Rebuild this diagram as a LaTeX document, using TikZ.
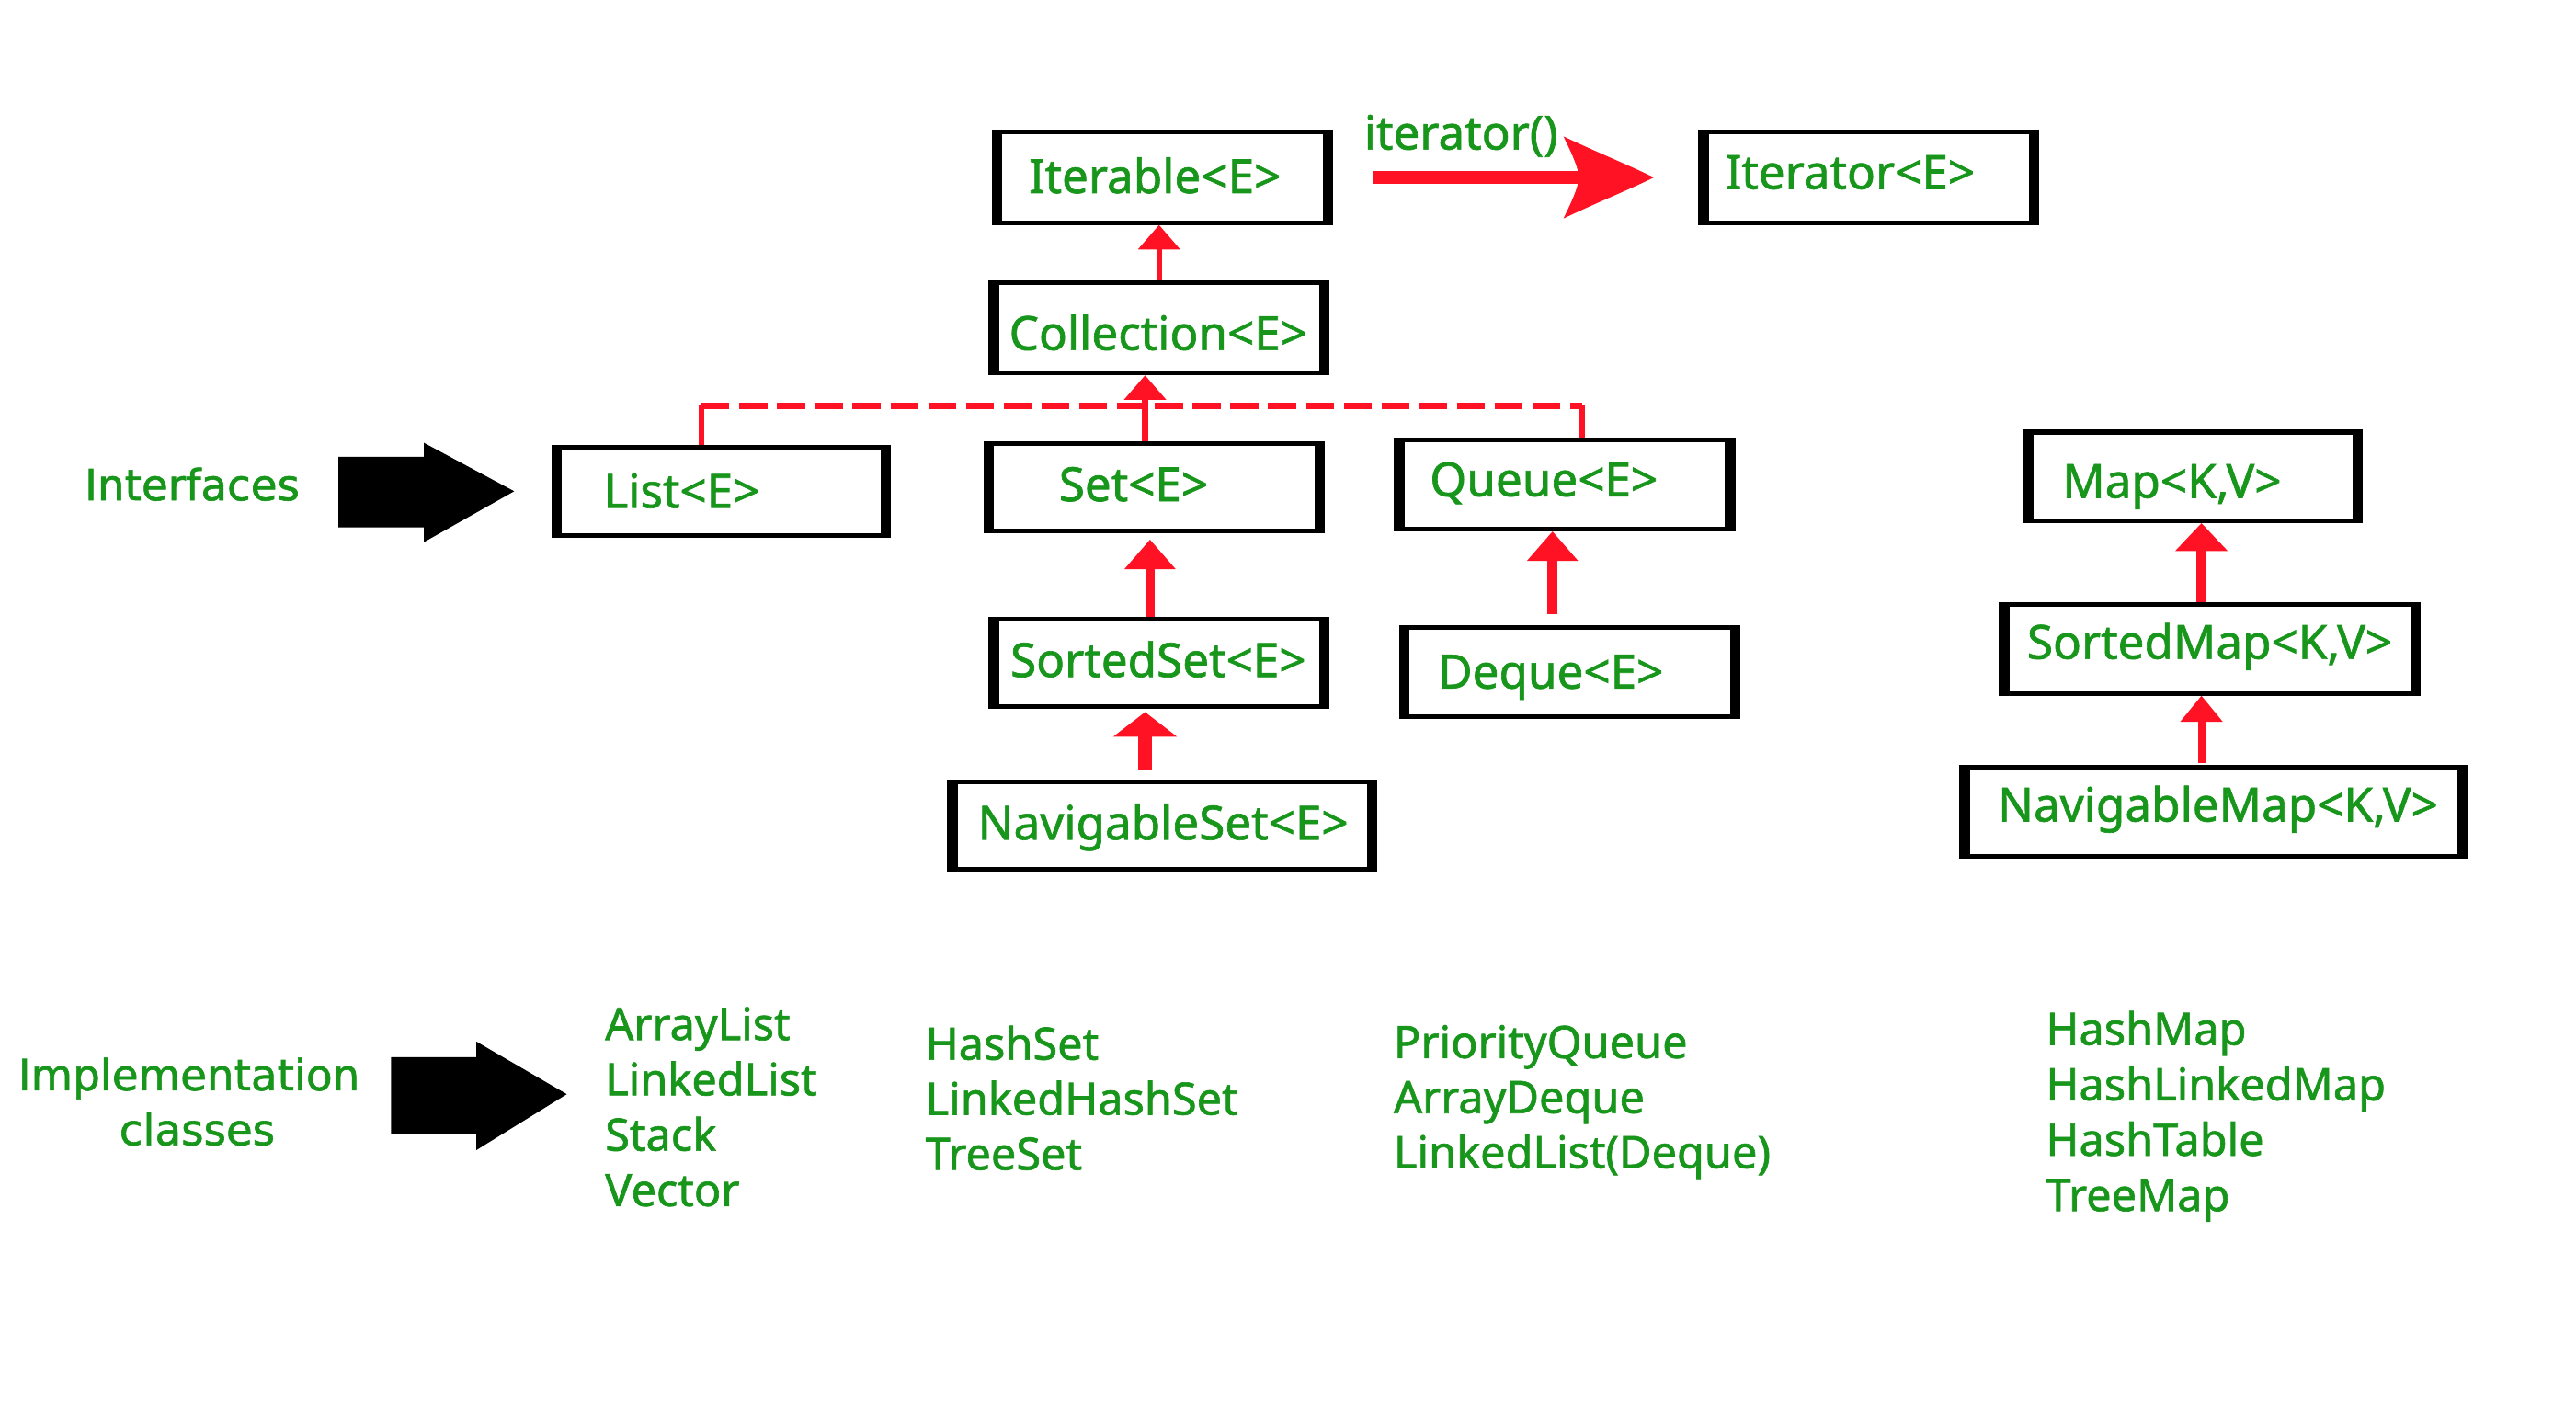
\documentclass[tikz,border=0pt]{standalone}
\usepackage{fontspec}
\setmainfont{Noto Sans}[RawFeature={embolden=1.3}]
\newfontfamily\dvs{DejaVu Sans}[RawFeature={embolden=1.3}]
\usetikzlibrary{arrows.meta}
\definecolor{igreen}{RGB}{24,150,28}
\definecolor{ired}{RGB}{255,18,36}
\begin{document}
\begin{tikzpicture}[x=0.02cm,y=-0.02cm,
  ibox/.style={draw=black, line width=1.6pt, inner sep=0pt,
    path picture={
      \fill[black] (path picture bounding box.north west) rectangle ([xshift=0.1cm]path picture bounding box.south west);
      \fill[black] ([xshift=-0.1cm]path picture bounding box.north east) rectangle (path picture bounding box.south east);}},
  blabel/.style={text=igreen, font=\fontsize{16.3}{19.6}\selectfont, inner sep=0pt},
  impl/.style={text=igreen, font=\fontsize{15.5}{19}\selectfont, inner sep=0pt, anchor=base west},
  side/.style={text=igreen, font=\dvs\fontsize{14.9}{19}\selectfont, inner sep=0pt, anchor=base},
  conn/.style={draw=ired, line width=0.07cm},
  bus/.style={draw=ired, line width=0.08cm, dash pattern=on 0.34cm off 0.12cm},
]
\useasboundingbox[fill=white] (0,0) rectangle (1568,867);

% boxes
\node[ibox, minimum width=4.1cm, minimum height=1.1cm] (iterable) at (707.5,108) {};
\node[ibox, minimum width=4.1cm, minimum height=1.1cm] (iterator) at (1137.5,108) {};
\node[ibox, minimum width=4.1cm, minimum height=1.1cm] (collection) at (705.5,199.5) {};
\node[ibox, minimum width=4.08cm, minimum height=1.08cm] (list) at (439,299) {};
\node[ibox, minimum width=4.1cm, minimum height=1.06cm] (set) at (702.5,296.5) {};
\node[ibox, minimum width=4.1cm, minimum height=1.08cm] (queue) at (952.5,295) {};
\node[ibox, minimum width=4.1cm, minimum height=1.06cm] (sortedset) at (705.5,403.5) {};
\node[ibox, minimum width=4.1cm, minimum height=1.08cm] (deque) at (955.5,409) {};
\node[ibox, minimum width=5.18cm, minimum height=1.06cm] (navset) at (707.5,502.5) {};
\node[ibox, minimum width=4.08cm, minimum height=1.08cm] (map) at (1335,290) {};
\node[ibox, minimum width=5.08cm, minimum height=1.08cm] (sortedmap) at (1345,395) {};
\node[ibox, minimum width=6.14cm, minimum height=1.08cm] (navmap) at (1347.5,494) {};

% box labels
\node[blabel, anchor=base] (t-iterable) at (703,117.5) {Iterable<E>};
\node[blabel, anchor=base west] (t-iterator) at (1050,115) {Iterator<E>};
\node[blabel, anchor=base] (t-collection) at (705,213) {Collection<E>};
\node[blabel, anchor=base west] (t-list) at (367,309) {List<E>};
\node[blabel, anchor=base] (t-set) at (690,305) {Set<E>};
\node[blabel, anchor=base west] (t-queue) at (870,302) {Queue<E>};
\node[blabel, anchor=base] (t-sortedset) at (705,412) {SortedSet<E>};
\node[blabel, anchor=base west] (t-deque) at (875,419) {Deque<E>};
\node[blabel, anchor=base] (t-navset) at (708,511) {NavigableSet<E>};
\node[blabel, anchor=base west] (t-map) at (1255,303) {Map<K,V>};
\node[blabel, anchor=base] (t-sortedmap) at (1345,401) {SortedMap<K,V>};
\node[blabel, anchor=base] (t-navmap) at (1350,500) {NavigableMap<K,V>};

% iterator() arrow
\coordinate (itS) at ([xshift=0.48cm]iterable.east);
\coordinate (itT) at ([xshift=-0.54cm]iterator.west);
\draw[ired, line width=0.15cm] (itS) -- ([xshift=-0.9cm]itT);
\fill[ired, shift={(itT)}] (0,0) .. controls (-14,-7) and (-34,-15) .. (-55,-25)
  .. controls (-50,-15) and (-47,-8) .. (-46,-3) -- (-46,3)
  .. controls (-47,8) and (-50,15) .. (-55,25)
  .. controls (-34,15) and (-14,7) .. (0,0) -- cycle;
\node[blabel, anchor=base west] (t-iter) at (830,91) {iterator()};

% inheritance connectors
\draw[conn, -{Triangle[length=0.3cm, width=0.5cm]}] (collection.north) -- (collection.north |- iterable.south);
\coordinate (busL) at (427,247);
\coordinate (busR) at (963,247);
\draw[conn] (list.north -| busL) -- (busL);
\draw[conn] (queue.north -| busR) -- (busR);
\draw[bus] (busL) -- (busR);
\draw[conn, -{Triangle[length=0.3cm, width=0.5cm]}] ([xshift=-0.11cm]set.north) -- ([xshift=-0.11cm]set.north |- collection.south);
\draw[ired, line width=0.12cm, shorten >=0.08cm, -{Triangle[length=0.36cm, width=0.6cm]}]
  ([xshift=-0.11cm]sortedset.north) -- ([xshift=-0.11cm]sortedset.north |- set.south);
\draw[ired, line width=0.12cm, shorten <=0.14cm, -{Triangle[length=0.36cm, width=0.6cm]}]
  ([xshift=-0.21cm]deque.north) -- ([xshift=-0.21cm]deque.north |- queue.south);
\draw[ired, line width=0.17cm, shorten <=0.12cm, shorten >=0.04cm, -{Triangle[length=0.3cm, width=0.76cm]}]
  ([xshift=-0.21cm]navset.north) -- ([xshift=-0.21cm]navset.north |- sortedset.south);
\draw[ired, line width=0.12cm, -{Triangle[length=0.34cm, width=0.62cm]}]
  ([xshift=-0.1cm]sortedmap.north) -- ([xshift=-0.1cm]sortedmap.north |- map.south);
\draw[ired, line width=0.09cm, shorten <=0.02cm, -{Triangle[length=0.32cm, width=0.5cm]}]
  ([xshift=-0.15cm]navmap.north) -- ([xshift=-0.15cm]navmap.north |- sortedmap.south);

% side labels and block arrows
\node[side] (interfaces) at (117,304.5) {Interfaces};
\fill[black] (206,278) -- (258,278) -- (258,269.5) -- (313,299) -- (258,330) -- (258,321) -- (206,321) -- cycle;
\node[side] (impl1) at (115,663.6) {Implementation};
\node[side] (impl2) at (120,697) {classes};
\fill[black] (238,643.5) -- (290,643.5) -- (290,634) -- (345,666) -- (290,700) -- (290,690) -- (238,690) -- cycle;

% implementation classes
\foreach \t [count=\i] in {ArrayList, LinkedList, Stack, Vector}
  \node[impl] (c1-\i) at (368,{633+33.7*(\i-1)}) {\t};
\foreach \t [count=\i] in {HashSet, LinkedHashSet, TreeSet}
  \node[impl] (c2-\i) at (563,{645+33.5*(\i-1)}) {\t};
\foreach \t [count=\i] in {PriorityQueue, ArrayDeque, LinkedList(Deque)}
  \node[impl] (c3-\i) at (848,{644+33.5*(\i-1)}) {\t};
\foreach \t [count=\i] in {HashMap, HashLinkedMap, HashTable, TreeMap}
  \node[impl] (c4-\i) at (1245,{636+33.7*(\i-1)}) {\t};
\end{tikzpicture}
\end{document}
